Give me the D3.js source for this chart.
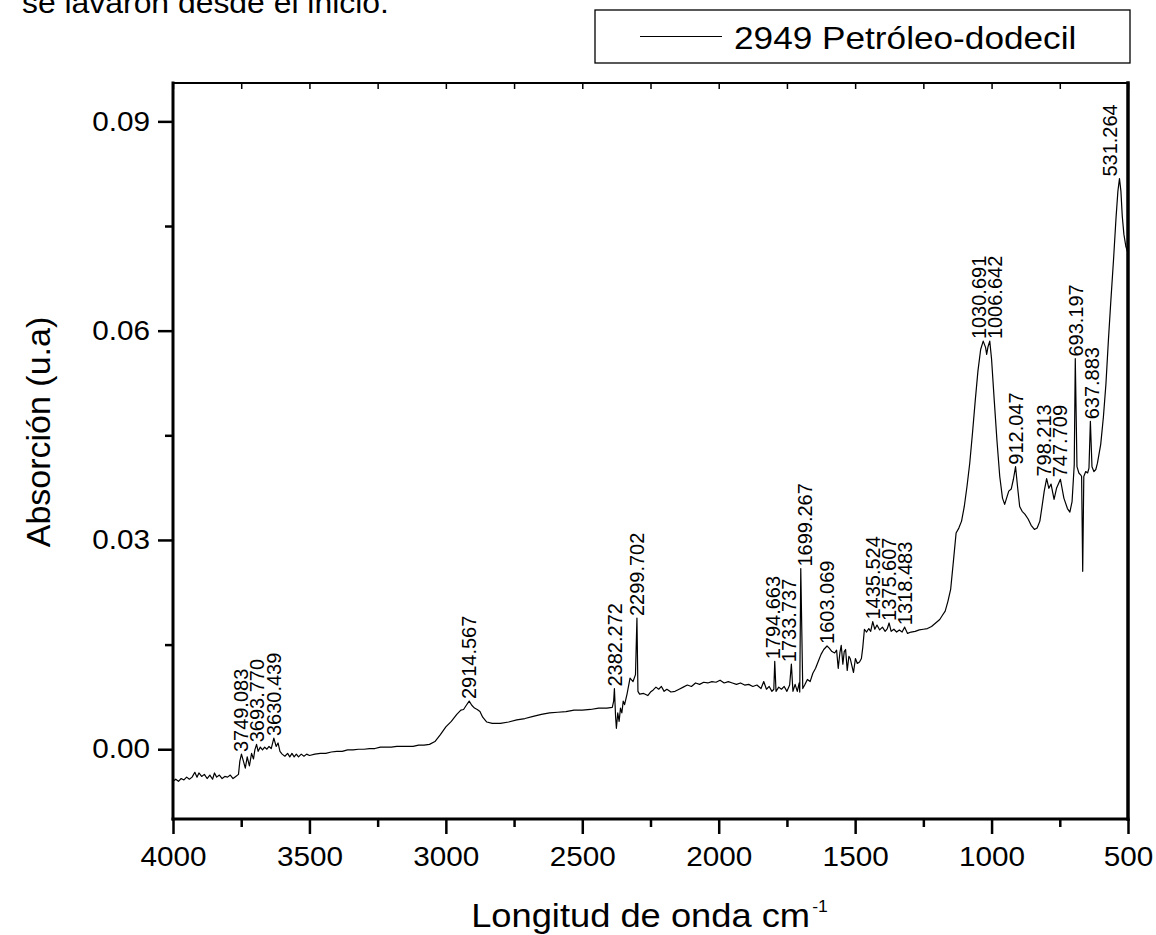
<!DOCTYPE html>
<html>
<head>
<meta charset="utf-8">
<script src="https://cdn.jsdelivr.net/npm/d3@7"></script>
<style>
  body { margin: 0; background: #fff; }
  svg { display: block; }
  text { font-family: "Liberation Sans", Arial, Helvetica, sans-serif; fill: #000; }
</style>
</head>
<body>
<svg id="chart" width="1156" height="935"></svg>
<script>
// FTIR spectrum, wavenumber (cm-1) vs absorbance (u.a)
const seriesName = "2949 Petróleo-dodecil";
const noteText = "se lavaron desde el inicio.";
const xTicks = [4000, 3500, 3000, 2500, 2000, 1500, 1000, 500];
const xMinorTicks = [3750, 3250, 2750, 2250, 1750, 1250, 750];
const yTicks = [0.00, 0.03, 0.06, 0.09];
const yMinorTicks = [0.015, 0.045, 0.075];

const spectrum = [
  [4000,-0.0046],[3990,-0.0043],[3980,-0.0046],[3970,-0.0042],[3960,-0.0044],[3950,-0.0040],
  [3940,-0.0043],[3930,-0.0040],[3920,-0.0033],[3912,-0.0040],[3905,-0.0034],[3895,-0.0039],
  [3885,-0.0036],[3875,-0.0042],[3865,-0.0037],[3855,-0.0043],[3848,-0.0034],[3840,-0.0040],
  [3830,-0.0037],[3820,-0.0042],[3810,-0.0039],[3800,-0.0040],[3790,-0.0037],[3780,-0.0042],
  [3770,-0.0039],[3760,-0.0036],[3755,-0.0017],[3749.083,-0.0007],[3742,-0.0017],[3735,-0.0027],
  [3728,-0.0011],[3720,-0.0024],[3712,-0.0006],[3705,-0.0014],[3700,-0.0001],[3693.770,0.0007],
  [3688,-0.0003],[3680,0.0003],[3672,-0.0001],[3664,0.0003],[3656,0.0000],[3648,0.0004],
  [3640,0.0001],[3630.439,0.0016],[3622,0.0004],[3615,0.0009],[3608,-0.0003],[3600,-0.0007],
  [3590,-0.0010],[3580,-0.0006],[3572,-0.0011],[3564,-0.0006],[3556,-0.0011],[3548,-0.0007],
  [3540,-0.0011],[3530,-0.0007],[3520,-0.0010],[3510,-0.0007],[3500,-0.0009],[3480,-0.0007],
  [3460,-0.0006],[3440,-0.0006],[3420,-0.0004],[3400,-0.0003],[3380,-0.0003],[3360,-0.0001],
  [3340,-0.0001],[3320,0.0000],[3300,0.0000],[3280,0.0001],[3260,0.0001],[3240,0.0003],
  [3220,0.0003],[3200,0.0003],[3180,0.0004],[3160,0.0004],[3140,0.0004],[3120,0.0004],
  [3100,0.0006],[3080,0.0006],[3060,0.0007],[3040,0.0011],[3020,0.0021],[3000,0.0032],
  [2980,0.0040],[2960,0.0050],[2945,0.0056],[2935,0.0057],[2925,0.0063],[2914.567,0.0069],
  [2905,0.0063],[2895,0.0059],[2885,0.0057],[2875,0.0054],[2865,0.0046],[2850,0.0039],
  [2830,0.0037],[2800,0.0037],[2770,0.0039],[2740,0.0042],[2710,0.0044],[2680,0.0047],
  [2650,0.0050],[2620,0.0052],[2590,0.0053],[2560,0.0054],[2530,0.0056],[2500,0.0056],
  [2470,0.0057],[2440,0.0059],[2410,0.0059],[2390,0.0060],[2385,0.0069],[2382.272,0.0087],
  [2378,0.0047],[2375,0.0030],[2370,0.0052],[2365,0.0040],[2360,0.0059],[2355,0.0052],
  [2350,0.0069],[2345,0.0064],[2336,0.0079],[2325,0.0102],[2314,0.0097],[2305,0.0107],
  [2299.702,0.0188],[2296,0.0083],[2290,0.0079],[2275,0.0080],[2260,0.0077],[2250,0.0082],
  [2240,0.0085],[2230,0.0089],[2220,0.0086],[2210,0.0090],[2200,0.0083],[2190,0.0086],
  [2175,0.0082],[2160,0.0083],[2145,0.0086],[2130,0.0089],[2115,0.0092],[2100,0.0090],
  [2085,0.0095],[2070,0.0093],[2055,0.0096],[2040,0.0095],[2025,0.0097],[2010,0.0096],
  [1995,0.0099],[1980,0.0095],[1965,0.0097],[1950,0.0095],[1935,0.0093],[1920,0.0095],
  [1905,0.0092],[1890,0.0093],[1875,0.0090],[1860,0.0092],[1845,0.0087],[1835,0.0097],
  [1825,0.0086],[1815,0.0090],[1805,0.0083],[1798,0.0086],[1794.663,0.0126],[1790,0.0083],
  [1780,0.0089],[1770,0.0086],[1760,0.0090],[1750,0.0083],[1740,0.0092],[1733.737,0.0122],
  [1728,0.0083],[1720,0.0093],[1712,0.0083],[1705,0.0095],[1703,0.0082],[1699.267,0.0259],
  [1692,0.0087],[1685,0.0092],[1675,0.0100],[1665,0.0097],[1655,0.0109],[1645,0.0116],
  [1635,0.0126],[1625,0.0136],[1615,0.0143],[1603.069,0.0148],[1595,0.0145],[1585,0.0140],
  [1575,0.0138],[1568,0.0142],[1562,0.0116],[1556,0.0138],[1551,0.0149],[1545,0.0122],
  [1540,0.0140],[1535,0.0143],[1529,0.0113],[1523,0.0133],[1518,0.0130],[1512,0.0120],
  [1506,0.0110],[1499,0.0130],[1492,0.0123],[1484,0.0125],[1477,0.0130],[1472,0.0146],
  [1466,0.0172],[1458,0.0168],[1450,0.0173],[1443,0.0169],[1435.524,0.0183],[1428,0.0172],
  [1420,0.0178],[1410,0.0171],[1400,0.0175],[1390,0.0169],[1382,0.0173],[1375.607,0.0181],
  [1368,0.0169],[1358,0.0172],[1348,0.0168],[1338,0.0171],[1328,0.0168],[1318.483,0.0175],
  [1308,0.0166],[1295,0.0168],[1280,0.0169],[1265,0.0171],[1250,0.0172],[1235,0.0173],
  [1220,0.0176],[1205,0.0181],[1190,0.0186],[1180,0.0192],[1170,0.0198],[1160,0.0212],
  [1150,0.0229],[1140,0.0269],[1130,0.0310],[1120,0.0317],[1110,0.0327],[1100,0.0348],
  [1090,0.0377],[1080,0.0410],[1070,0.0453],[1060,0.0499],[1050,0.0542],[1040,0.0573],
  [1030.691,0.0585],[1022,0.0576],[1018,0.0566],[1013,0.0577],[1006.642,0.0585],[1000,0.0559],
  [990,0.0499],[980,0.0441],[970,0.0391],[960,0.0360],[952,0.0351],[945,0.0360],
  [937,0.0370],[928,0.0373],[920,0.0387],[912.047,0.0405],[905,0.0377],[897,0.0348],
  [888,0.0341],[878,0.0337],[866,0.0330],[855,0.0321],[843,0.0315],[833,0.0317],
  [823,0.0327],[815,0.0348],[807,0.0370],[798.213,0.0388],[790,0.0374],[782,0.0380],
  [771,0.0358],[762,0.0374],[747.709,0.0387],[735,0.0360],[722,0.0345],[713,0.0340],
  [705,0.0355],[697,0.0408],[693.197,0.0560],[687,0.0405],[680,0.0396],[673,0.0393],
  [670,0.0391],[666,0.0255],[662,0.0391],[655,0.0398],[648,0.0396],[643,0.0403],
  [637.883,0.0470],[632,0.0405],[625,0.0398],[618,0.0401],[612,0.0410],[600,0.0437],
  [590,0.0477],[581,0.0523],[572,0.0585],[563,0.0642],[553,0.0702],[544,0.0761],
  [537,0.0800],[531.264,0.0818],[526,0.0800],[521,0.0764],[515,0.0738],[508,0.0721],
  [500,0.0711]
];

const peakLabels = [3749.083, 3693.770, 3630.439, 2914.567, 2382.272, 2299.702, 1794.663,
  1733.737, 1699.267, 1603.069, 1435.524, 1375.607, 1318.483, 1030.691, 1006.642,
  912.047, 798.213, 747.709, 693.197, 637.883, 531.264];

const svg = d3.select("#chart");
const plot = { left: 173, right: 1128, top: 83, bottom: 819 };
const wide = 1.1; // horizontal text stretch of the figure

const x = d3.scaleLinear().domain([4000, 500]).range([plot.left, plot.right]);
const y = d3.scaleLinear().domain([-0.01, 0.0955]).range([plot.bottom, plot.top]);

// note text partly outside the top edge
svg.append("text")
  .attr("transform", `translate(22,13) scale(${wide},1)`)
  .attr("font-size", 29)
  .text(noteText);

// left axis: major + minor ticks
const gLeft = svg.append("g").attr("transform", `translate(${plot.left},0)`);
gLeft.call(d3.axisLeft(y).tickValues(yTicks).tickSize(15).tickPadding(8)
  .tickFormat(d3.format(".2f")));
gLeft.append("g").call(d3.axisLeft(y).tickValues(yMinorTicks).tickSize(8).tickFormat(""));

// bottom axis
const gBottom = svg.append("g").attr("transform", `translate(0,${plot.bottom})`);
gBottom.call(d3.axisBottom(x).tickValues(xTicks).tickSize(15).tickPadding(13)
  .tickFormat(d3.format("d")));
gBottom.append("g").call(d3.axisBottom(x).tickValues(xMinorTicks).tickSize(8).tickFormat(""));

// top edge: short inward ticks
const gTop = svg.append("g").attr("transform", `translate(0,${plot.top})`);
gTop.call(d3.axisTop(x).tickValues(xTicks.concat(xMinorTicks)).tickSize(-6).tickFormat(""));

svg.selectAll(".domain").remove();
svg.selectAll(".tick line").attr("stroke", "#000").attr("stroke-width", 2.5);
gTop.selectAll(".tick line").attr("stroke-width", 1.5);

gLeft.selectAll(".tick text")
  .attr("font-size", 27).attr("font-family", null)
  .attr("transform", function () {
    const tx = +d3.select(this).attr("x");
    d3.select(this).attr("x", 0);
    return `translate(${tx},0) scale(${wide},1)`;
  });
gBottom.selectAll(".tick text")
  .attr("font-size", 27).attr("font-family", null)
  .attr("transform", `scale(${wide},1)`);

// frame
const frame = svg.append("g").attr("stroke", "#000").attr("fill", "none")
  .attr("stroke-linecap", "square");
frame.append("line").attr("x1", plot.left).attr("x2", plot.right)
  .attr("y1", plot.top).attr("y2", plot.top).attr("stroke-width", 2);
frame.append("line").attr("x1", plot.right).attr("x2", plot.right)
  .attr("y1", plot.top).attr("y2", plot.bottom).attr("stroke-width", 3.5);
frame.append("line").attr("x1", plot.left).attr("x2", plot.right)
  .attr("y1", plot.bottom).attr("y2", plot.bottom).attr("stroke-width", 3);
frame.append("line").attr("x1", plot.left).attr("x2", plot.left)
  .attr("y1", plot.top).attr("y2", plot.bottom).attr("stroke-width", 3);

// spectrum line
const line = d3.line().x(d => x(d[0])).y(d => y(d[1]));
svg.append("path").datum(spectrum)
  .attr("d", line)
  .attr("fill", "none").attr("stroke", "#000").attr("stroke-width", 1.2)
  .attr("stroke-linejoin", "round");

// peak labels: rotated, centered on the peak, nudged apart when crowded
// and kept clear of the right frame
const labelFont = 20, minGap = 16;
const peaks = peakLabels.map(wn => {
  const pt = spectrum.reduce((a, b) => Math.abs(b[0] - wn) < Math.abs(a[0] - wn) ? b : a);
  return { wn, v: pt[1], cx: x(wn) };
}).sort((a, b) => a.cx - b.cx);
for (let iter = 0; iter < 50; iter++) {
  for (let i = 1; i < peaks.length; i++) {
    const d = peaks[i].cx - peaks[i - 1].cx;
    if (d < minGap) {
      const push = (minGap - d) / 2;
      peaks[i - 1].cx -= push;
      peaks[i].cx += push;
    }
  }
  peaks.forEach(p => { p.cx = Math.min(p.cx, plot.right - 18); });
}
svg.append("g").selectAll("text").data(peaks).join("text")
  .attr("transform", d => `translate(${d.cx},${y(d.v) - 2}) rotate(-90)`)
  .attr("dy", "0.36em")
  .attr("font-size", labelFont)
  .text(d => d.wn.toFixed(3));

// axis titles
svg.append("text")
  .attr("transform", `translate(50,432) rotate(-90)`)
  .attr("text-anchor", "middle")
  .attr("font-size", 34)
  .text("Absorción (u.a)");

const xt = svg.append("text")
  .attr("transform", `translate(${(plot.left + plot.right) / 2 - 1},927) scale(${wide},1)`)
  .attr("text-anchor", "middle")
  .attr("font-size", 33);
xt.append("tspan").text("Longitud de onda cm");
xt.append("tspan").attr("font-size", 16).attr("dx", 2).attr("dy", -15).text("-1");

// legend
const lg = svg.append("g");
lg.append("rect").attr("x", 595).attr("y", 10).attr("width", 535).attr("height", 53)
  .attr("fill", "#fff").attr("stroke", "#000").attr("stroke-width", 1.3);
lg.append("line").attr("x1", 640).attr("x2", 722).attr("y1", 36.5).attr("y2", 36.5)
  .attr("stroke", "#000").attr("stroke-width", 1.2);
lg.append("text")
  .attr("transform", `translate(734,49) scale(${wide},1)`)
  .attr("font-size", 32).text(seriesName);
</script>
</body>
</html>
